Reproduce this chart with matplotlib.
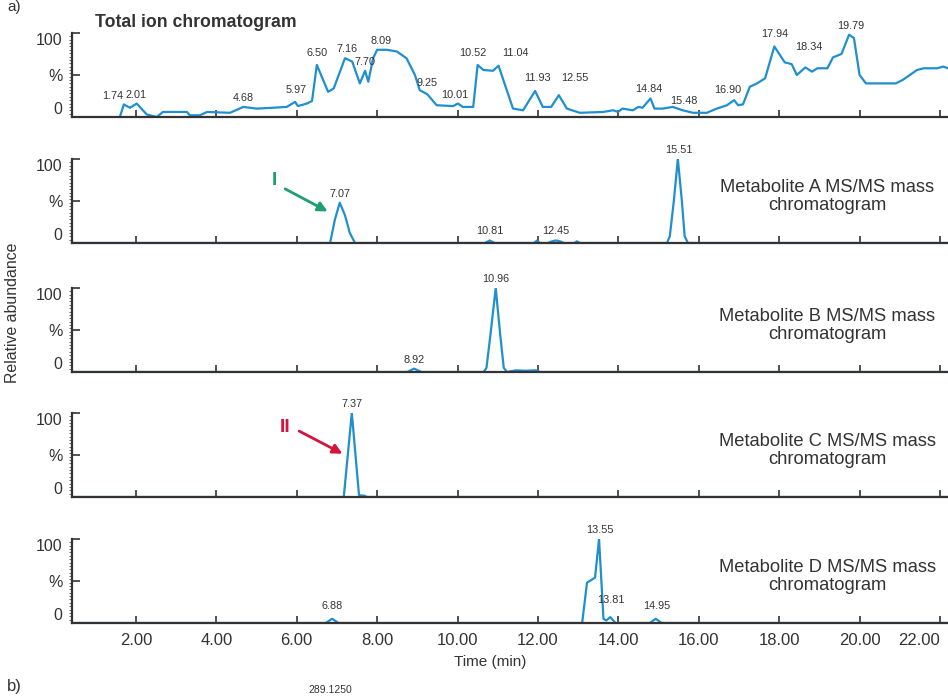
import numpy as np
import matplotlib.pyplot as plt

# total ion chromatogram (time in min, relative abundance in %)
tic_time = [1.60, 1.70, 1.85, 2.02, 2.27, 2.52, 2.67, 3.27, 3.34, 3.59, 3.77, 4.34, 4.67,
            5.00, 5.41, 5.75, 5.96, 6.03, 6.25, 6.38, 6.50, 6.78, 6.92, 7.20, 7.38, 7.57,
            7.70, 7.78, 7.90, 8.00, 8.24, 8.49, 8.73, 8.94, 9.06, 9.25, 9.48, 9.89, 10.01,
            10.13, 10.39, 10.50, 10.64, 10.88, 11.02, 11.38, 11.63, 11.93, 12.12, 12.33,
            12.52, 12.72, 13.04, 13.62, 13.87, 13.99, 14.10, 14.36, 14.50, 14.60, 14.80,
            14.90, 15.10, 15.35, 15.60, 15.86, 16.20, 16.45, 16.70, 16.88, 16.98, 17.10,
            17.27, 17.45, 17.65, 17.88, 18.14, 18.31, 18.44, 18.65, 18.82, 18.95, 19.20,
            19.34, 19.55, 19.74, 19.86, 20.00, 20.16, 20.90, 21.07, 21.43, 21.60, 21.93,
            22.08, 22.20]
tic_pct = [0, 15, 11, 16, 3, 0, 6, 6, 2, 2, 6, 5, 12,
           10, 11, 12, 18, 13, 16, 19, 62, 30, 34, 70, 66, 40,
           55, 42, 70, 80, 80, 78, 70, 50, 32, 27, 14, 13, 16,
           12, 12, 62, 56, 55, 61, 10, 8, 31, 12, 12,
           26, 10, 5, 6, 8, 6, 10, 8, 12, 11, 22,
           10, 10, 12, 8, 5, 5, 10, 14, 20, 14, 15,
           36, 40, 46, 84, 65, 63, 50, 59, 54, 58, 58,
           71, 75, 98, 94, 50, 40, 40, 44, 56, 58, 58,
           60, 58]
tic_peaks = [1.74, 2.01, 4.68, 5.97, 6.50, 7.16, 7.70, 8.09, 9.25, 10.01, 10.52, 11.04,
             11.93, 12.55, 14.84, 15.48, 16.90, 17.94, 18.34, 19.79]

# MS/MS mass chromatograms
met_a_time = [0.41, 6.83, 6.95, 7.07, 7.20, 7.32, 7.45, 10.68, 10.80, 10.92, 11.90, 11.98,
              12.05, 12.25, 12.35, 12.45, 12.55, 12.65, 12.90, 12.97, 13.04, 15.21, 15.28,
              15.38, 15.48, 15.58, 15.65, 15.73, 22.2]
met_a_pct = [0, 0, 28, 48, 33, 12, 0, 0, 3, 0, 0, 3,
             0, 0, 2, 3, 2, 0, 0, 2, 0, 0, 8,
             50, 100, 50, 8, 0, 0]
met_a_peaks = [7.07, 10.81, 12.45, 15.51]

met_b_time = [0.41, 8.75, 8.92, 9.10, 10.65, 10.72, 10.82, 10.95, 11.06, 11.15, 11.23,
              11.45, 11.70, 11.95, 12.05, 22.2]
met_b_pct = [0, 0, 4, 0, 0, 5, 45, 100, 45, 5, 0, 2, 1.5, 2, 0, 0]
met_b_peaks = [8.92, 10.96]

met_c_time = [0.41, 7.17, 7.37, 7.55, 7.68, 7.75, 22.2]
met_c_pct = [0, 0, 100, 2, 1.5, 0, 0]
met_c_peaks = [7.37]

met_d_time = [0.41, 6.72, 6.88, 7.04, 13.10, 13.22, 13.42, 13.52, 13.63, 13.70, 13.80,
              13.93, 14.78, 14.93, 15.08, 22.2]
met_d_pct = [0, 0, 5, 0, 0, 48, 54, 100, 5, 3, 7, 0, 0, 5, 0, 0]
met_d_peaks = [6.88, 13.55, 13.81, 14.95]

panel_names = ['Metabolite A MS/MS mass\nchromatogram', 'Metabolite B MS/MS mass\nchromatogram',
               'Metabolite C MS/MS mass\nchromatogram', 'Metabolite D MS/MS mass\nchromatogram']

# label nudges in pixels (dx, dy) relative to the peak top
tic_nudge = {1.74: (-13, 8), 5.97: (1, 12), 6.50: (0, 12), 7.16: (4, 9), 9.25: (0, 11),
             10.01: (-3, 9), 10.52: (-6, 12), 11.04: (16, 13), 11.93: (2, 13), 12.55: (15, 17),
             14.84: (-3, 10), 15.48: (6, 9), 16.90: (-7, 10), 17.94: (-2, 12), 18.34: (16, 17)}
met_nudge = {13.81: (0, 17), 14.95: (0, 13), 6.88: (0, 13)}

plt.rcParams['font.family'] = ['Liberation Sans', 'DejaVu Sans']
BLUE = '#1f8fd0'
INK = '#333333'

W, H = 948, 700
fig = plt.figure(figsize=(W / 100, H / 100), dpi=100)

baselines = [117, 243, 372, 497, 623]
x0_px = 72
axes = []
for b in baselines:
    ax = fig.add_axes([x0_px / W, 1 - b / H, 1 - x0_px / W, 84 / H])
    axes.append(ax)


def peak_top(t, y, x, w=0.12):
    t = np.asarray(t)
    y = np.asarray(y)
    m = np.abs(t - x) <= w
    return y[m].max() if m.any() else np.interp(x, t, y)


def style_axis(ax, last=False):
    ax.set_xlim(0.41, 22.2)
    ax.set_ylim(0, 100)
    for s in ['top', 'right']:
        ax.spines[s].set_visible(False)
    for s in ['left', 'bottom']:
        ax.spines[s].set_color(INK)
        ax.spines[s].set_linewidth(1.6)
        ax.spines[s].set_zorder(3)
    ax.set_xticks(np.arange(2, 23, 2))
    ax.tick_params(axis='x', direction='in', length=5, width=1.2, color=INK,
                   labelsize=12, labelcolor=INK, pad=7)
    if last:
        ax.set_xticklabels([f'{v:.2f}' for v in np.arange(2, 23, 2)])
        ax.get_xticklabels()[-1].set_ha('right')
    else:
        ax.set_xticklabels([])
    ax.set_yticks([0, 50, 100])
    ax.set_yticklabels(['0', '%', '100'])
    ax.set_yticks(np.arange(0, 101, 4), minor=True)
    ax.tick_params(axis='y', which='major', direction='in', length=6, width=1.2,
                   color=INK, labelsize=11.5, labelcolor=INK, pad=7)
    ax.tick_params(axis='y', which='minor', direction='out', length=2, width=0.7, color='#666666')
    labs = ax.get_yticklabels()
    labs[0].set_va('bottom')
    labs[2].set_va('top')
    ax.patch.set_visible(False)


def label_peaks(ax, t, y, peaks, nudge):
    for p in peaks:
        dx, dy = nudge.get(p, (0, 9))
        ax.annotate(f'{p:.2f}', xy=(p, peak_top(t, y, p)), xytext=(dx, dy),
                    textcoords='offset pixels', ha='center', va='center',
                    fontsize=7.8, color=INK, annotation_clip=False)


# top panel
ax = axes[0]
ax.plot(tic_time, tic_pct, color=BLUE, lw=1.6, solid_joinstyle='round')
style_axis(ax)
label_peaks(ax, tic_time, tic_pct, tic_peaks, tic_nudge)
ax.text(0.98, 112, 'Total ion chromatogram', fontsize=12.7, fontweight='bold',
        color=INK, ha='left', va='center')

series = [(met_a_time, met_a_pct, met_a_peaks), (met_b_time, met_b_pct, met_b_peaks),
          (met_c_time, met_c_pct, met_c_peaks), (met_d_time, met_d_pct, met_d_peaks)]
for i, (t, y, peaks) in enumerate(series):
    ax = axes[i + 1]
    ax.plot(t, y, color=BLUE, lw=1.6, solid_joinstyle='round')
    style_axis(ax, last=(i == 3))
    label_peaks(ax, t, y, peaks, met_nudge)
    ax.text(19.2, 55, panel_names[i], fontsize=13.2, color=INK, ha='center', va='center',
            linespacing=1.1)

# arrows marking metabolites I and II
ax = axes[1]
ax.text(5.45, 74, 'I', fontsize=14, fontweight='bold', color='#1f9e6e', ha='center', va='center')
ax.annotate('', xy=(6.83, 36), xytext=(5.65, 66),
            arrowprops=dict(arrowstyle='-|>', color='#1f9e6e', lw=2, mutation_scale=14))
ax = axes[3]
ax.text(5.71, 83, 'II', fontsize=14, fontweight='bold', color='#d4143c', ha='center', va='center')
ax.annotate('', xy=(7.2, 50), xytext=(6.0, 80),
            arrowprops=dict(arrowstyle='-|>', color='#d4143c', lw=2, mutation_scale=14))

fig.text(13 / W, 1 - 313 / H, 'Relative abundance', rotation=90, fontsize=11.4, color=INK,
         ha='center', va='center')
fig.text(490 / W, 1 - 662 / H, 'Time (min)', fontsize=11, color=INK, ha='center', va='center')
fig.text(14 / W, 1 - 7 / H, 'a)', fontsize=11, color=INK, ha='center', va='center')
fig.text(14 / W, 1 - 686 / H, 'b)', fontsize=12, color=INK, ha='center', va='center')
fig.text(330 / W, 1 - 690 / H, '289.1250', fontsize=7.5, color=INK, ha='center', va='center')

fig.savefig('out.png', dpi=100)
